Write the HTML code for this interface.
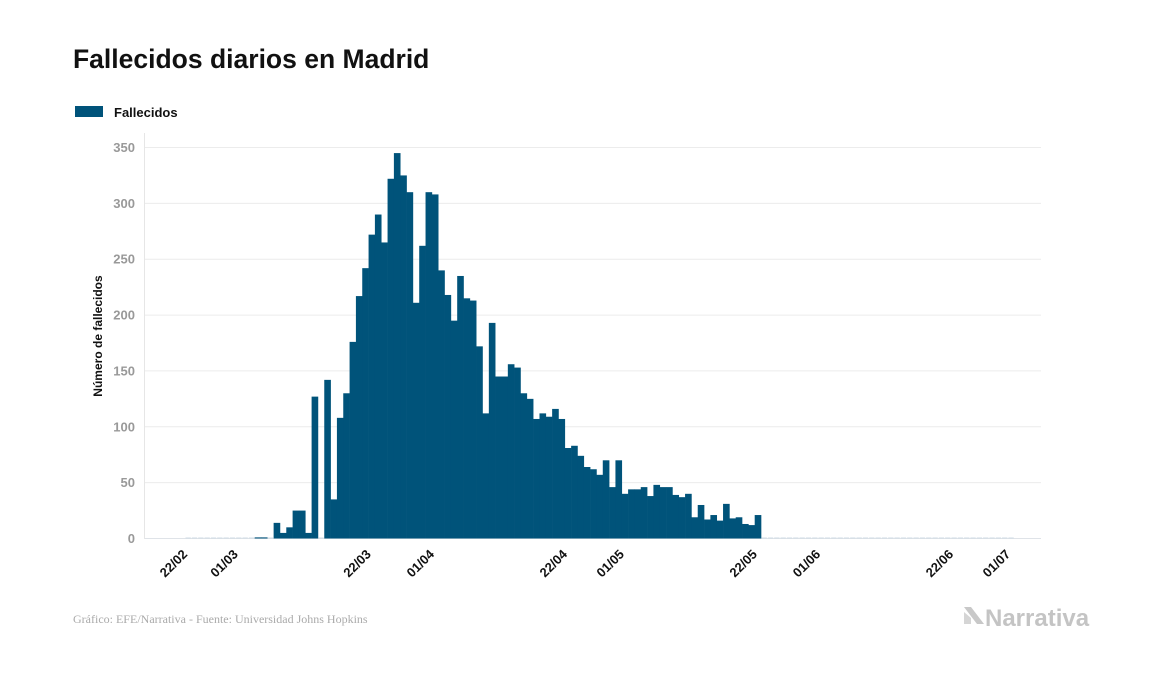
<!DOCTYPE html>
<html><head><meta charset="utf-8"><style>
body{margin:0;background:#fff;}
svg{display:block;font-family:"Liberation Sans",sans-serif;}
</style></head><body>
<svg id="chart" width="1157" height="674">
<text x="73" y="68" font-size="26.5" font-weight="bold" fill="#111">Fallecidos diarios en Madrid</text>
<g>
<rect x="75" y="106" width="28" height="11" fill="#00537a"/>
<text x="114" y="117" font-size="13" font-weight="bold" fill="#111">Fallecidos</text>
</g>
<text transform="translate(102,336) rotate(-90)" text-anchor="middle" font-size="12" font-weight="bold" fill="#111">Número de fallecidos</text>
<g id="grid"></g><g id="bars"></g><g id="xt"></g>
<text x="73" y="623" font-family="Liberation Serif,serif" font-size="12" fill="#aaa">Gráfico: EFE/Narrativa - Fuente: Universidad Johns Hopkins</text>
<g>
<polygon points="964,607 971,607 984,624 977,624" fill="#c8c8c8"/>
<polygon points="964,612 971,618 971,624 964,624" fill="#d5d5d5"/>
<text x="985" y="626" font-size="24" font-weight="bold" fill="#c4c4c4">Narrativa</text>
</g>
</svg>
<script>
const values=[0,0,0,0,0,0,0,0,0,0,0,1,1,0,14,5,10,25,25,5,127,0,142,35,108,130,176,217,242,272,290,265,322,345,325,310,211,262,310,308,240,218,195,235,215,213,172,112,193,145,145,156,153,130,125,107,112,109,116,107,81,83,74,64,62,57,70,46,70,40,44,44,46,38,48,46,46,39,37,40,19,30,17,21,16,31,18,19,13,12,21,0,0,0,0,0,0,0,0,0,0,0,0,0,0,0,0,0,0,0,0,0,0,0,0,0,0,0,0,0,0,0,0,0,0,0,0,0,0,0,0];
const yTicks=[0,50,100,150,200,250,300,350];
const xTickIdx=[0,8,29,39,60,69,90,100,121,130];
const xTickLabels=["22/02","01/03","22/03","01/04","22/04","01/05","22/05","01/06","22/06","01/07"];
const NS="http://www.w3.org/2000/svg";
const bw=6.33,x0=185;
function xs(i){return x0+i*bw;}
function ys(v){return 538.5-v*391/350;}
const g=document.getElementById('grid'),b=document.getElementById('bars'),xt=document.getElementById('xt');
function mk(t,a,p){const e=document.createElementNS(NS,t);for(const k in a)e.setAttribute(k,a[k]);p.appendChild(e);return e;}
yTicks.forEach(v=>{
 const l=mk('line',{x1:145,x2:1041,y1:ys(v),y2:ys(v),stroke:v===0?'#dfe3e8':'#ececec','stroke-width':1},g);
 
 
 const t=mk('text',{x:135,y:ys(v)+4.5,'text-anchor':'end','font-size':13,'font-weight':'bold',fill:'#999'},g);
 t.textContent=v;
 
 
});
const ax=mk('line',{x1:144.5,x2:144.5,y1:133,y2:539,stroke:'#e6e6e6'},g);


values.forEach((v,i)=>{
 let r;
 if(v>0){r=mk('rect',{x:xs(i),y:ys(v),width:bw+0.3,height:538.5-ys(v),fill:'#00537a'},b);}
 else{r=mk('rect',{x:xs(i)+0.5,y:537.5,width:bw-1,height:1,fill:'#cfdbe4'},b);}
 
 
});
xTickIdx.forEach((idx,k)=>{
 const cx=xs(idx)+bw/2;
 const t=mk('text',{transform:`translate(${cx},555) rotate(-45)`,'text-anchor':'end','font-size':13,'font-weight':'bold',fill:'#111'},xt);
 t.textContent=xTickLabels[k];
 
 
});
</script>
</body></html>
